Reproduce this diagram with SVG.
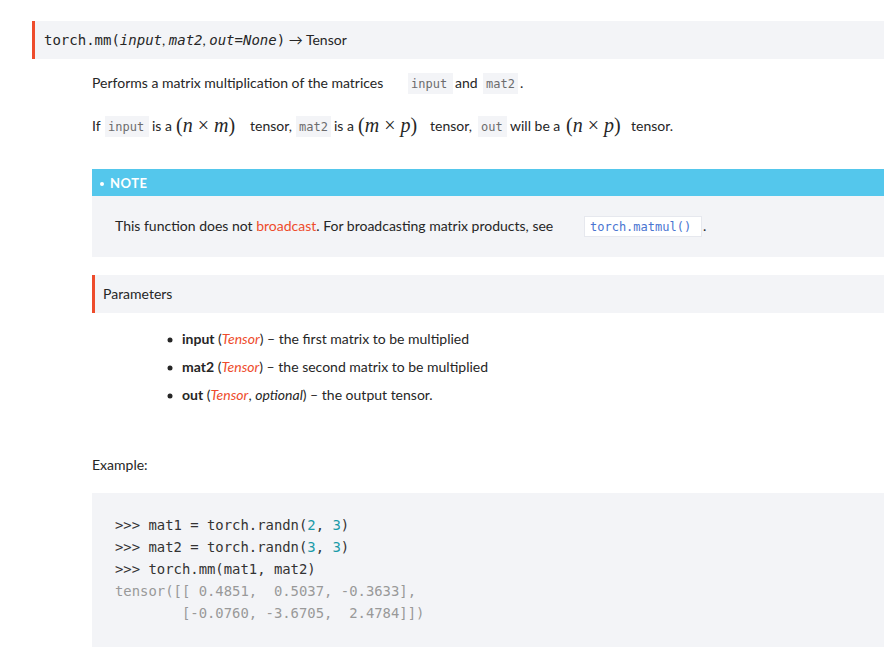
<svg xmlns="http://www.w3.org/2000/svg" width="884" height="660" viewBox="0 0 884 660">
<style>
.t{font-family:Lato,"Open Sans",sans-serif;font-size:14px;fill:#262626}
.m{font-family:"DejaVu Sans Mono","Liberation Mono",monospace}
.ic{font-family:"DejaVu Sans Mono",monospace;font-size:12px;fill:#6c6c6d}
.cb{fill:#f3f4f7}
.mx{font-family:"Liberation Serif",serif;font-size:20px;fill:#262626}
.red{fill:#ee4c2c}
.code{font-family:"DejaVu Sans Mono","Liberation Mono",monospace;font-size:13.9px;fill:#333}
.out{fill:#999}
.num{fill:#1a9aa8}
</style>
<rect width="884" height="660" fill="#fff"/>
<g id="signature">
<rect x="32" y="21" width="852" height="38" fill="#f3f4f7"/>
<rect x="32" y="21" width="3" height="38" fill="#ee4c2c"/>
<text x="44" y="45" font-size="14" fill="#262626"><tspan class="m">torch.mm(</tspan><tspan class="m" font-style="italic">input</tspan><tspan font-family="Lato,sans-serif">, </tspan><tspan class="m" font-style="italic">mat2</tspan><tspan font-family="Lato,sans-serif">, </tspan><tspan class="m" font-style="italic">out=None</tspan><tspan class="m">)</tspan><tspan font-family="Lato,sans-serif"> → Tensor</tspan></text>
</g>
<g id="desc">
<rect class="cb" x="408" y="73" width="45" height="21"/>
<rect class="cb" x="483" y="73" width="35" height="21"/>
<text class="t" x="92" y="88">Performs a matrix multiplication of the matrices</text>
<text class="ic" x="411" y="88">input</text>
<text class="t" x="455" y="88">and</text>
<text class="ic" x="486" y="88">mat2</text>
<text class="t" x="520" y="88">.</text>
<rect class="cb" x="105" y="116" width="44" height="21"/>
<rect class="cb" x="296" y="116" width="35" height="21"/>
<rect class="cb" x="478" y="116" width="29" height="21"/>
<text class="t" x="92" y="131">If</text>
<text class="ic" x="108" y="131">input</text>
<text class="t" x="152" y="131">is a</text>
<text class="mx" x="176" y="132">(<tspan font-style="italic">n</tspan> × <tspan font-style="italic">m</tspan>)</text>
<text class="t" x="250" y="131">tensor,</text>
<text class="ic" x="299" y="131">mat2</text>
<text class="t" x="334" y="131">is a</text>
<text class="mx" x="358" y="132">(<tspan font-style="italic">m</tspan> × <tspan font-style="italic">p</tspan>)</text>
<text class="t" x="430" y="131">tensor,</text>
<text class="ic" x="481" y="131">out</text>
<text class="t" x="510" y="131">will be a</text>
<text class="mx" x="566" y="132">(<tspan font-style="italic">n</tspan> × <tspan font-style="italic">p</tspan>)</text>
<text class="t" x="631" y="131">tensor.</text>
</g>
<g id="note">
<rect x="92" y="169" width="792" height="27" fill="#54c7ec"/>
<rect x="92" y="196" width="792" height="61" fill="#f3f4f7"/>
<circle cx="102" cy="184" r="2" fill="#fff"/>
<text x="110" y="188" font-family="Lato,sans-serif" font-size="13" font-weight="bold" fill="#fff" letter-spacing="0.5">NOTE</text>
<text class="t" x="115" y="231">This function does not <tspan fill="#ee4c2c">broadcast</tspan>. For broadcasting matrix products, see</text>
<rect x="584.5" y="216.5" width="117" height="20" fill="#fff" stroke="#e6e8ee"/>
<text class="ic" x="590" y="231" fill="#4974d1" style="fill:#4974d1">torch.matmul()</text>
<text class="t" x="703" y="231">.</text>
</g>
<g id="parameters">
<rect x="92" y="275" width="792" height="38" fill="#f3f4f7"/>
<rect x="92" y="275" width="3" height="38" fill="#ee4c2c"/>
<text class="t" x="103" y="299">Parameters</text>
<circle cx="170" cy="340" r="2.5" fill="#262626"/>
<circle cx="170" cy="368" r="2.5" fill="#262626"/>
<circle cx="170" cy="396" r="2.5" fill="#262626"/>
<text class="t" x="182" y="344"><tspan font-weight="bold">input</tspan> (<tspan font-style="italic" fill="#ee4c2c">Tensor</tspan>) – the first matrix to be multiplied</text>
<text class="t" x="182" y="372"><tspan font-weight="bold">mat2</tspan> (<tspan font-style="italic" fill="#ee4c2c">Tensor</tspan>) – the second matrix to be multiplied</text>
<text class="t" x="182" y="400"><tspan font-weight="bold">out</tspan> (<tspan font-style="italic" fill="#ee4c2c">Tensor</tspan>, <tspan font-style="italic">optional</tspan>) – the output tensor.</text>
</g>
<g id="example">
<text class="t" x="92" y="470">Example:</text>
<rect x="92" y="493" width="792" height="154" fill="#f3f4f7"/>
<text class="code" xml:space="preserve"><tspan x="115" y="530">&gt;&gt;&gt; mat1 = torch.randn(<tspan class="num">2</tspan>, <tspan class="num">3</tspan>)</tspan><tspan x="115" y="552">&gt;&gt;&gt; mat2 = torch.randn(<tspan class="num">3</tspan>, <tspan class="num">3</tspan>)</tspan><tspan x="115" y="574">&gt;&gt;&gt; torch.mm(mat1, mat2)</tspan><tspan x="115" y="596" class="out">tensor([[ 0.4851,  0.5037, -0.3633],</tspan><tspan x="115" y="618" class="out">        [-0.0760, -3.6705,  2.4784]])</tspan></text>
</g>
</svg>
